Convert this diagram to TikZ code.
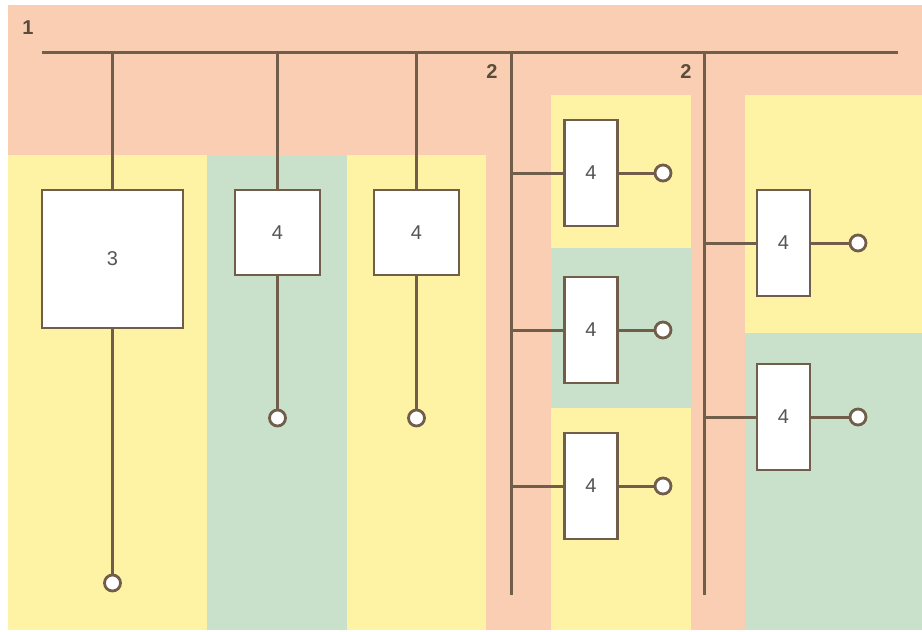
\documentclass[tikz,border=0pt]{standalone}
\usepackage{fontspec}
\setsansfont{Liberation Sans}
\usetikzlibrary{calc}
\definecolor{zonepeach}{RGB}{249,206,178}
\definecolor{zoneyellow}{RGB}{254,243,164}
\definecolor{zonegreen}{RGB}{201,225,203}
\definecolor{wirebrown}{RGB}{112,94,74}
\definecolor{labelgrey}{RGB}{85,85,85}
\tikzset{
  unitbox/.style={draw=wirebrown,fill=white,line width=2.8pt,inner sep=0pt,
    font=\sffamily\fontsize{20}{20}\selectfont,text=labelgrey},
  tallbox/.style={unitbox,minimum width=53pt,minimum height=106pt},
  outlet/.style={circle,draw=wirebrown,fill=white,line width=2.8pt,
    minimum size=16pt,inner sep=0pt},
  wire/.style={wirebrown,line width=3pt},
  buslabel/.style={font=\sffamily\bfseries\fontsize{20}{20}\selectfont,text=wirebrown!80!black}
}

\begin{document}
\begin{tikzpicture}[x=1pt,y=-1pt]
  \useasboundingbox (0,0) rectangle (922,632);
  \fill[white] (0,0) rectangle (922,632);
  % zones
  \fill[zonepeach] (8,5) rectangle (922,630);
  \fill[zoneyellow] (8,155) rectangle (207,630);
  \fill[zonegreen] (207,155) rectangle (347,630);
  \fill[zoneyellow] (347,155) rectangle (486,630);
  \fill[zoneyellow] (551,95) rectangle (691,248);
  \fill[zonegreen] (551,248) rectangle (691,408);
  \fill[zoneyellow] (551,408) rectangle (691,630);
  \fill[zoneyellow] (745,95) rectangle (922,333);
  \fill[zonegreen] (745,333) rectangle (922,630);

  % buses
  \coordinate (busw) at (42,52);
  \coordinate (buse) at (898,52);
  \coordinate (subatop) at (511,52);
  \coordinate (subabot) at (511,595);
  \coordinate (subbtop) at (704,52);
  \coordinate (subbbot) at (704,595);
  \node[buslabel] (lbus) at (28,28) {1};
  \node[buslabel] (lsuba) at (492,72) {2};
  \node[buslabel] (lsubb) at (686,72) {2};

  % units
  \node[unitbox,minimum width=141pt,minimum height=138pt] (ubig) at (112.5,259) {3};
  \node[unitbox,minimum width=85pt,minimum height=85pt] (ua) at (277.5,232.5) {4};
  \node[unitbox,minimum width=85pt,minimum height=85pt] (ub) at (416.5,232.5) {4};
  \node[tallbox] (uc) at (591,173) {4};
  \node[tallbox] (ud) at (591,330) {4};
  \node[tallbox] (ue) at (591,486) {4};
  \node[tallbox] (uf) at (783.5,243) {4};
  \node[tallbox] (ug) at (783.5,417) {4};

  % outlets
  \node[outlet] (obig) at (112.5,583) {};
  \node[outlet] (oa) at (277.5,418) {};
  \node[outlet] (ob) at (416.5,418) {};
  \node[outlet] (oc) at (663,173) {};
  \node[outlet] (od) at (663,330) {};
  \node[outlet] (oe) at (663,486) {};
  \node[outlet] (of) at (858,243) {};
  \node[outlet] (og) at (858,417) {};

  \draw[wire] (busw) -- (buse);
  \draw[wire] (subatop) -- (subabot);
  \draw[wire] (subbtop) -- (subbbot);
  \foreach \u/\o in {ubig/obig,ua/oa,ub/ob} {
    \draw[wire] (\u.north |- busw) -- (\u.north);
    \draw[wire] (\u.south) -- (\o);
  }
  \foreach \u/\o in {uc/oc,ud/od,ue/oe} {
    \draw[wire] (\u.west -| subatop) -- (\u.west);
    \draw[wire] (\u.east) -- (\o);
  }
  \foreach \u/\o in {uf/of,ug/og} {
    \draw[wire] (\u.west -| subbtop) -- (\u.west);
    \draw[wire] (\u.east) -- (\o);
  }
\end{tikzpicture}
\end{document}
